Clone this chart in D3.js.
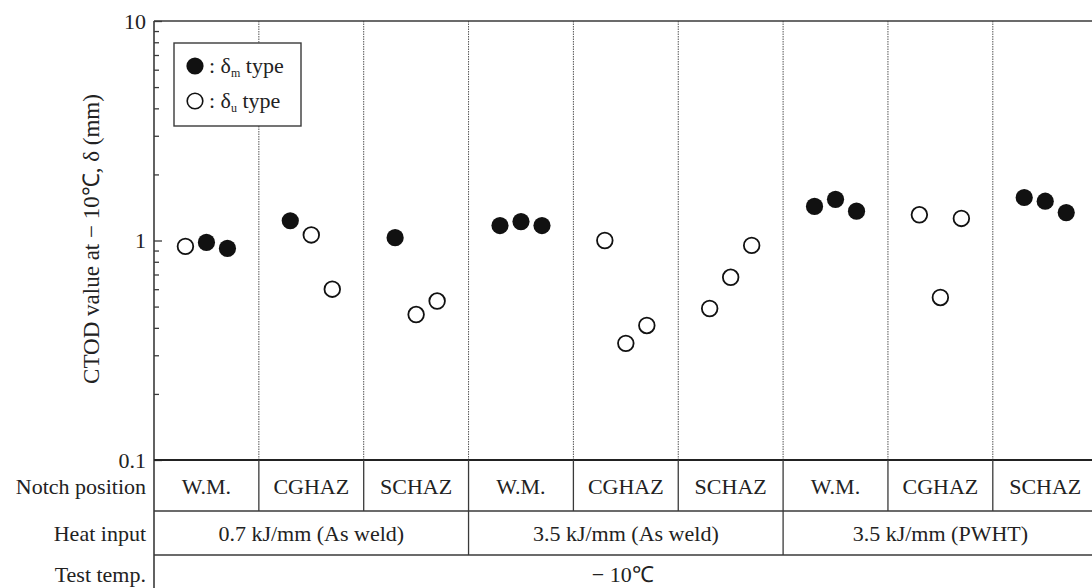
<!DOCTYPE html>
<html>
<head>
<meta charset="utf-8">
<script src="https://cdn.jsdelivr.net/npm/d3@7"></script>
<style>
  body { margin: 0; background: #fff; }
  svg { display: block; }
</style>
</head>
<body>
<svg id="chart" width="1092" height="588"></svg>
<script>
// notch positions (one per column), heat input groups, measured CTOD values
const notchPositions = ["W.M.", "CGHAZ", "SCHAZ", "W.M.", "CGHAZ", "SCHAZ", "W.M.", "CGHAZ", "SCHAZ"];
const heatInputs = ["0.7 kJ/mm (As weld)", "3.5 kJ/mm (As weld)", "3.5 kJ/mm (PWHT)"];
const testTemp = "\u2212 10\u2103";
const yTickLabels = [0.1, 1, 10];

// three specimens per notch position
const ctodValues = [
  [0.94, 0.98, 0.92],
  [1.23, 1.06, 0.60],
  [1.03, 0.46, 0.53],
  [1.17, 1.22, 1.17],
  [1.00, 0.34, 0.41],
  [0.49, 0.68, 0.95],
  [1.43, 1.54, 1.36],
  [1.31, 0.55, 1.26],
  [1.57, 1.51, 1.34]
];
// m = delta_m type (filled), u = delta_u type (open)
const ctodTypes = [
  ["u", "m", "m"],
  ["m", "u", "u"],
  ["m", "u", "u"],
  ["m", "m", "m"],
  ["u", "u", "u"],
  ["u", "u", "u"],
  ["m", "m", "m"],
  ["u", "u", "u"],
  ["m", "m", "m"]
];

// pick the first serif family that is really installed
function pickFont(list) {
  const ctx = document.createElement("canvas").getContext("2d");
  const probe = "Notch position 0.7 kJ/mm";
  ctx.font = "40px monospace";
  const base = ctx.measureText(probe).width;
  for (const f of list) {
    ctx.font = `40px "${f}", monospace`;
    if (Math.abs(ctx.measureText(probe).width - base) > 0.5) return `"${f}"`;
  }
  return "serif";
}
const serif = pickFont(["Liberation Serif", "Tinos", "Times New Roman", "DejaVu Serif", "Noto Serif", "FreeSerif"]);

const svg = d3.select("#chart").style("font-family", serif);
const pLeft = 154, pTop = 21, pBottom = 460, colW = 104.85;
const pRight = pLeft + notchPositions.length * colW;
const rowNotch = 511, rowHeat = 555, lineCol = "#3a3a3a", txtCol = "#222";
const fs = "22px";

const x = d3.scaleBand().domain(d3.range(notchPositions.length)).range([pLeft, pRight]).padding(0);
const sub = d3.scalePoint().domain([0, 1, 2]).range([-21, 21]);
const y = d3.scaleLog().domain([0.1, 10]).range([pBottom, pTop]);

// dotted column separators
svg.append("g")
  .selectAll("line")
  .data(d3.range(1, notchPositions.length))
  .join("line")
  .attr("x1", d => x(d)).attr("x2", d => x(d))
  .attr("y1", pTop).attr("y2", pBottom)
  .attr("stroke", "#555").attr("stroke-width", 1)
  .attr("stroke-dasharray", "1.5,1");

// top frame
svg.append("line")
  .attr("x1", pLeft).attr("x2", pRight).attr("y1", pTop).attr("y2", pTop)
  .attr("stroke", lineCol).attr("stroke-width", 1.6);

// y axis with inward log ticks
const isMajor = d => yTickLabels.includes(+d.toPrecision(1));
const yAxis = svg.append("g")
  .attr("transform", `translate(${pLeft},0)`)
  .call(d3.axisLeft(y).tickValues(y.ticks()).tickSize(0)
    .tickFormat(d => isMajor(d) ? d3.format("~g")(d) : ""));
yAxis.attr("font-family", null).attr("font-size", null);
yAxis.select(".domain").remove();
yAxis.selectAll(".tick text")
  .attr("x", -8).attr("dy", "0.32em")
  .style("font-size", fs).attr("fill", txtCol);
yAxis.selectAll(".tick").append("line")
  .attr("x1", 0)
  .attr("x2", d => isMajor(d) ? 8 : 5)
  .attr("stroke", lineCol).attr("stroke-width", 1.3);

// left vertical line running down through table
svg.append("line")
  .attr("x1", pLeft).attr("x2", pLeft).attr("y1", pTop).attr("y2", 588)
  .attr("stroke", lineCol).attr("stroke-width", 1.6);

// y axis title
svg.append("text")
  .attr("transform", `translate(99,${(95 + 383) / 2}) rotate(-90)`)
  .attr("text-anchor", "middle")
  .style("font-size", "23px").attr("fill", txtCol)
  .text("CTOD value at \u2212 10\u2103, \u03b4 (mm)");

// data points
const pts = [];
ctodValues.forEach((vals, i) => vals.forEach((v, j) => pts.push({ col: i, k: j, v: v, t: ctodTypes[i][j] })));
svg.append("g")
  .selectAll("circle")
  .data(pts)
  .join("circle")
  .attr("cx", d => x(d.col) + x.bandwidth() / 2 + sub(d.k))
  .attr("cy", d => y(d.v))
  .attr("r", d => d.t === "m" ? 8.6 : 7.8)
  .attr("fill", d => d.t === "m" ? "#111" : "#fff")
  .attr("stroke", "#111")
  .attr("stroke-width", d => d.t === "m" ? 0 : 1.8);

// legend
const lg = svg.append("g");
lg.append("rect").attr("x", 174).attr("y", 43).attr("width", 127).attr("height", 83)
  .attr("fill", "#fff").attr("stroke", lineCol).attr("stroke-width", 1.4);
const legendItems = [{ t: "m", cy: 66 }, { t: "u", cy: 101 }];
legendItems.forEach(it => {
  lg.append("circle").attr("cx", 195).attr("cy", it.cy)
    .attr("r", it.t === "m" ? 8.6 : 7.8)
    .attr("fill", it.t === "m" ? "#111" : "#fff")
    .attr("stroke", "#111").attr("stroke-width", it.t === "m" ? 0 : 1.6);
  const tx = lg.append("text").attr("x", 209).attr("y", it.cy + 7)
    .style("font-size", fs).attr("fill", txtCol);
  tx.append("tspan").text(": \u03b4");
  tx.append("tspan").attr("dy", 4).style("font-size", "12px").text(it.t);
  tx.append("tspan").attr("dy", -4).text(" type");
});

// table: thick line at bottom of plot
svg.append("line")
  .attr("x1", pLeft).attr("x2", pRight).attr("y1", pBottom).attr("y2", pBottom)
  .attr("stroke", "#222").attr("stroke-width", 2.2);
[rowNotch, rowHeat].forEach(yy => {
  svg.append("line")
    .attr("x1", pLeft).attr("x2", pRight).attr("y1", yy).attr("y2", yy)
    .attr("stroke", lineCol).attr("stroke-width", 1.4);
});

// notch row separators & labels
svg.append("g").selectAll("line")
  .data(d3.range(1, notchPositions.length))
  .join("line")
  .attr("x1", d => x(d)).attr("x2", d => x(d))
  .attr("y1", pBottom).attr("y2", rowNotch)
  .attr("stroke", lineCol).attr("stroke-width", 1.3);
svg.append("g").selectAll("text")
  .data(notchPositions)
  .join("text")
  .attr("x", (d, i) => x(i) + x.bandwidth() / 2)
  .attr("y", (pBottom + rowNotch) / 2 + 8)
  .attr("text-anchor", "middle")
  .style("font-size", fs).attr("fill", txtCol)
  .text(d => d);

// heat input row
const grp = 3;
svg.append("g").selectAll("line")
  .data(d3.range(1, heatInputs.length))
  .join("line")
  .attr("x1", d => x(d * grp)).attr("x2", d => x(d * grp))
  .attr("y1", rowNotch).attr("y2", rowHeat)
  .attr("stroke", lineCol).attr("stroke-width", 1.3);
svg.append("g").selectAll("text")
  .data(heatInputs)
  .join("text")
  .attr("x", (d, i) => (x(i * grp) + x(i * grp + grp - 1) + x.bandwidth()) / 2)
  .attr("y", (rowNotch + rowHeat) / 2 + 8)
  .attr("text-anchor", "middle")
  .style("font-size", fs).attr("fill", txtCol)
  .text(d => d);

// test temperature row
svg.append("text")
  .attr("x", (pLeft + pRight) / 2 - 3).attr("y", 582)
  .attr("text-anchor", "middle")
  .style("font-size", fs).attr("fill", txtCol)
  .text(testTemp);

// row headings
const rowHeads = [
  { t: "Notch position", y: (pBottom + rowNotch) / 2 + 8 },
  { t: "Heat input", y: (rowNotch + rowHeat) / 2 + 8 },
  { t: "Test temp.", y: 582 }
];
svg.append("g").selectAll("text")
  .data(rowHeads)
  .join("text")
  .attr("x", 146).attr("y", d => d.y)
  .attr("text-anchor", "end")
  .style("font-size", fs).attr("fill", txtCol)
  .text(d => d.t);
</script>
</body>
</html>
